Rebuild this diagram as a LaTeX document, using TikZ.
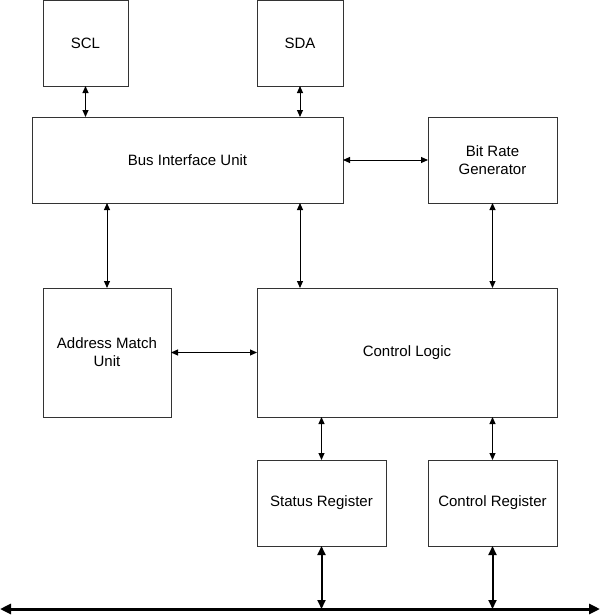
\documentclass[tikz,border=0pt]{standalone}
\usepackage{fontspec}
\setmainfont{Liberation Sans}
\usetikzlibrary{positioning, arrows.meta}

\tikzset{
  blk/.style={draw=black!80, line width=0.9pt, inner sep=0pt, outer sep=0pt,
    align=center, font=\fontsize{15}{18}\selectfont},
  link/.style={line width=1pt,
    {Triangle[length=7pt,width=6pt]}-{Triangle[length=7pt,width=6pt]}},
  buslink/.style={line width=2pt,
    {Triangle[length=9pt,width=8pt]}-{Triangle[length=9pt,width=8pt]}},
  busline/.style={line width=3pt,
    {Triangle[length=11pt,width=10pt]}-{Triangle[length=11pt,width=10pt]}},
}

\begin{document}
\begin{tikzpicture}[x=1pt,y=-1pt]
  \useasboundingbox (0,0) rectangle (600,616);

  % pins
  \node[blk, minimum width=85, minimum height=85.5] (scl) at (85.5,43.25) {SCL};
  \node[blk, minimum width=86, minimum height=85.5] (sda) at (300,43.25) {SDA};

  % second row
  \node[blk, minimum width=311, minimum height=86] (biu) at (187.5,160) {Bus Interface Unit};
  \node[blk, minimum width=129, minimum height=86] (brg) at (492.5,160) {Bit Rate\\Generator};

  % middle row
  \node[blk, minimum width=128, minimum height=129] (amu) at (107,352.5) {Address Match\\Unit};
  \node[blk, minimum width=300, minimum height=129] (ctl) at (407,352.5) {Control Logic};

  % registers
  \node[blk, minimum width=129, minimum height=86] (sreg) at (321.5,503) {Status Register};
  \node[blk, minimum width=129, minimum height=86] (creg) at (492.5,503) {Control Register};

  % data bus
  \coordinate (busL) at (0,609);
  \coordinate (busR) at (600,609);
  \draw[busline] (busL) -- (busR);

  % links
  \draw[link] (scl.south) -- (scl.south |- biu.north);
  \draw[link] (sda.south) -- (sda.south |- biu.north);
  \draw[link] (biu.east) -- (brg.west);
  \draw[link] (biu.south -| amu.north) -- (amu.north);
  \draw[link] (biu.south -| sda.south) -- (ctl.north -| sda.south);
  \draw[link] (brg.south) -- (brg.south |- ctl.north);
  \draw[link] (amu.east) -- (ctl.west);
  \draw[link] (ctl.south -| sreg.north) -- (sreg.north);
  \draw[link] (ctl.south -| creg.north) -- (creg.north);
  \draw[buslink] (sreg.south) -- (sreg.south |- busL);
  \draw[buslink] (creg.south) -- (creg.south |- busL);
\end{tikzpicture}
\end{document}
